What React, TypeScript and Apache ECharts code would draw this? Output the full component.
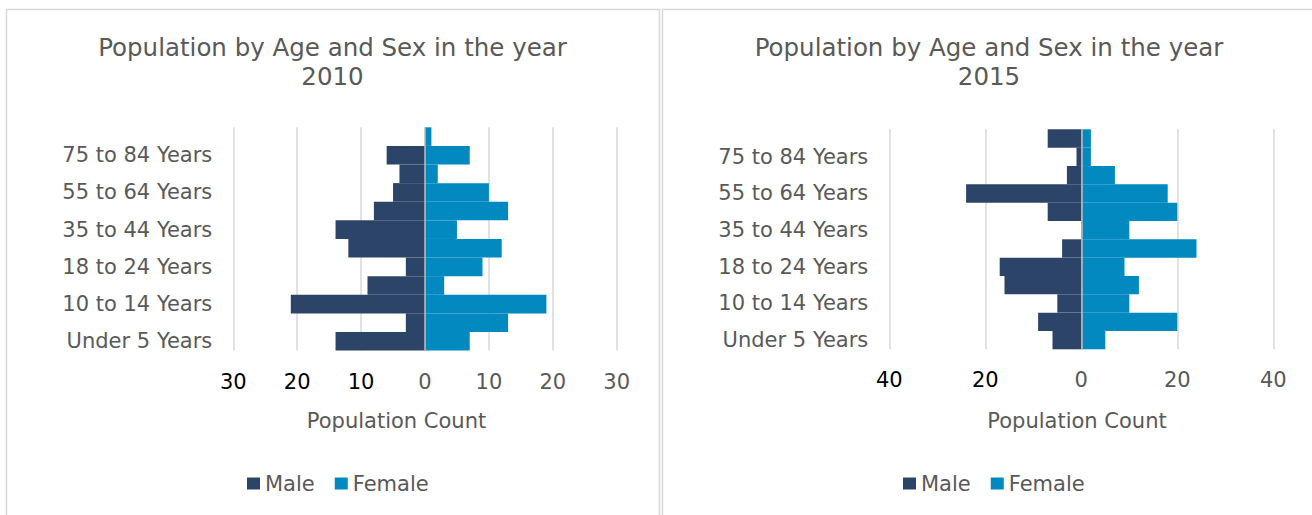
import React, { useEffect, useRef } from "react";
import * as echarts from "echarts";

const categories = [
  "Under 5 Years",
  "5 to 9 Years",
  "10 to 14 Years",
  "15 to 17 Years",
  "18 to 24 Years",
  "25 to 34 Years",
  "35 to 44 Years",
  "45 to 54 Years",
  "55 to 64 Years",
  "65 to 74 Years",
  "75 to 84 Years",
  "85 Years and Over",
];

const male2010 = [14, 3, 21, 9, 3, 12, 14, 8, 5, 4, 6, 0];
const female2010 = [7, 13, 19, 3, 9, 12, 5, 13, 10, 2, 7, 1];
const male2015 = [6, 9, 5, 16, 17, 4, 0, 7, 24, 3, 1, 7];
const female2015 = [5, 20, 10, 12, 9, 24, 10, 20, 18, 7, 2, 2];

const axis2010 = { min: -30, max: 30, interval: 10 };
const axis2015 = { min: -40, max: 40, interval: 20 };

const titleText = "Population by Age and Sex in the year";
const axisName = "Population Count";
const seriesNames = ["Male", "Female"];

const FONT = "DejaVu Sans";
const GRAY = "#595959";
const MALE = "#2C4468";
const FEMALE = "#0189C0";

export default function App() {
  const ref = useRef<HTMLDivElement>(null);

  useEffect(() => {
    if (!ref.current) return;
    const chart = echarts.init(ref.current, undefined, { renderer: "svg" });

    const xAxisFor = (gridIndex: number, a: { min: number; max: number; interval: number }) => ({
      type: "value",
      gridIndex,
      min: a.min,
      max: a.max,
      interval: a.interval,
      axisLine: { show: false },
      axisTick: { show: false },
      splitLine: { show: true, lineStyle: { color: "#D9D9D9", width: 1.5 } },
      axisLabel: {
        margin: 20,
        lineHeight: 22,
        formatter: (v: number) => (v < 0 ? `{n|${-v}}` : `{p|${v}}`),
        rich: {
          n: { color: "#000000", fontSize: 21, fontFamily: FONT, lineHeight: 22 },
          p: { color: GRAY, fontSize: 21, fontFamily: FONT, lineHeight: 22 },
        },
      },
    });

    const yAxisFor = (gridIndex: number) => ({
      type: "category",
      gridIndex,
      data: categories,
      axisLine: { show: false },
      axisTick: { show: false },
      splitLine: { show: false },
      axisLabel: {
        interval: 1,
        margin: 21,
        color: GRAY,
        fontSize: 21,
        fontFamily: FONT,
      },
    });

    const barSeries = (name: string, data: number[], idx: number, color: string, negative: boolean, zero: boolean) => ({
      name,
      type: "bar",
      xAxisIndex: idx,
      yAxisIndex: idx,
      stack: "s" + idx,
      barCategoryGap: "0%",
      data: data.map((v) => (negative ? -v : v)),
      itemStyle: { color },
      silent: true,
      markLine: zero
        ? {
            silent: true,
            symbol: "none",
            label: { show: false },
            lineStyle: { color: "#BFBFBF", width: 1.5, type: "solid" },
            data: [{ xAxis: 0 }],
          }
        : undefined,
    });

    const nameText = (x: number, y: number) => ({
      type: "text",
      x,
      y,
      style: {
        text: axisName,
        fill: GRAY,
        fontSize: 21,
        fontFamily: FONT,
        align: "center",
        verticalAlign: "middle",
        textAlign: "center",
        textVerticalAlign: "middle",
      },
    });

    const titleStyle = { color: GRAY, fontSize: 24.5, lineHeight: 29, fontWeight: "normal", fontFamily: FONT };

    chart.setOption({
      animation: false,
      backgroundColor: "#ffffff",
      textStyle: { fontFamily: FONT },
      title: [
        {
          text: titleText + "\n2010",
          left: 332.5,
          top: 32.5,
          padding: 0,
          textAlign: "center",
          textStyle: titleStyle,
        },
        {
          text: titleText + "\n2015",
          left: 989,
          top: 32.5,
          padding: 0,
          textAlign: "center",
          textStyle: titleStyle,
        },
      ],
      legend: [
        {
          data: seriesNames,
          left: 247,
          top: 473,
          padding: 0,
          itemWidth: 13,
          itemHeight: 12,
          itemGap: 20,
          icon: "rect",
          textStyle: { color: GRAY, fontSize: 21, fontFamily: FONT },
        },
        {
          data: seriesNames,
          left: 903,
          top: 473,
          padding: 0,
          itemWidth: 13,
          itemHeight: 12,
          itemGap: 20,
          icon: "rect",
          textStyle: { color: GRAY, fontSize: 21, fontFamily: FONT },
        },
      ],
      grid: [
        { left: 233.3, top: 127.3, width: 383.4, height: 223.3, containLabel: false },
        { left: 889.3, top: 129.3, width: 384, height: 220, containLabel: false },
      ],
      xAxis: [xAxisFor(0, axis2010), xAxisFor(1, axis2015)],
      yAxis: [yAxisFor(0), yAxisFor(1)],
      series: [
        barSeries(seriesNames[0], male2010, 0, MALE, true, false),
        barSeries(seriesNames[1], female2010, 0, FEMALE, false, true),
        barSeries(seriesNames[0], male2015, 1, MALE, true, false),
        barSeries(seriesNames[1], female2015, 1, FEMALE, false, true),
      ],
      graphic: [
        {
          type: "rect",
          shape: { x: 6.5, y: 9.5, width: 653, height: 520 },
          style: { fill: "none", stroke: "#D9D9D9", lineWidth: 1.5 },
          silent: true,
          z: -1,
        },
        {
          type: "rect",
          shape: { x: 662.5, y: 9.5, width: 660, height: 520 },
          style: { fill: "none", stroke: "#D9D9D9", lineWidth: 1.5 },
          silent: true,
          z: -1,
        },
        nameText(396.5, 420.5),
        nameText(1077, 420.5),
      ],
    });

    return () => chart.dispose();
  }, []);

  return (
    <div
      ref={ref}
      style={{ position: "fixed", left: 0, top: 0, width: 1312, height: 515, background: "#fff" }}
    />
  );
}
